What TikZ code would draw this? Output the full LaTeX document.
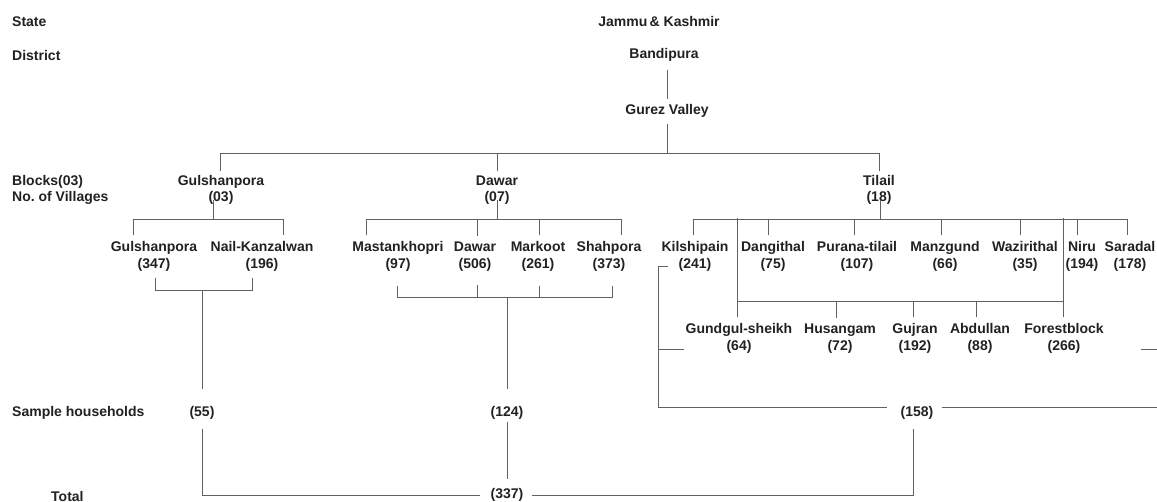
\documentclass[tikz,border=0pt]{standalone}
\usepackage{fontspec}
\setmainfont{Liberation Sans}
\usepackage{tikz}
\definecolor{txt}{gray}{0.13}
\definecolor{lin}{gray}{0.38}

\begin{document}
\begin{tikzpicture}[x=1pt, y=-1pt,
  font=\fontsize{14}{16.5}\selectfont\bfseries,
  lbl/.style={inner sep=0pt, text=txt},
  blk/.style={lbl, align=center, inner ysep=4pt},
  vil/.style={lbl, align=center, inner ysep=6pt, font=\fontsize{14}{17}\selectfont\bfseries},
  ln/.style={draw=lin, line width=1pt}]
\clip (0,0) rectangle (1157,502);
\coordinate (bar0) at (0,154);

\node[lbl,anchor=west] (lstate) at (12,22) {State};
\node[lbl,anchor=west] (ldist) at (12,55) {District};
\node[lbl,anchor=west,align=left] (lblock) at (12,190) {Blocks(03)\\No.\ of Villages};
\node[lbl,anchor=west] (lsample) at (12,413) {Sample households};
\node[lbl,anchor=west] (ltotal) at (51,496) {Total};

\node[lbl] (jk) at (659,22) {Jammu\,\& Kashmir};
\node[lbl] (bandi) at (664,55) {Bandipura};
\node[lbl] (gurez) at (667,111) {Gurez Valley};

\node[blk] (gulb) at (221,190) {Gulshanpora\\(03)};
\node[blk] (dawb) at (497,190) {Dawar\\(07)};
\node[blk] (tilb) at (879,190) {Tilail\\(18)};

\node[vil] (gv1) at (154,256.5) {Gulshanpora\\(347)};
\node[vil] (gv2) at (262,256.5) {Nail-Kanzalwan\\(196)};
\node[vil] (dv1) at (398,256.5) {Mastankhopri\\(97)};
\node[vil] (dv2) at (475,256.5) {Dawar\\(506)};
\node[vil] (dv3) at (538,256.5) {Markoot\\(261)};
\node[vil] (dv4) at (609,256.5) {Shahpora\\(373)};
\node[vil] (tv1) at (695,256.5) {Kilshipain\\(241)};
\node[vil] (tv2) at (773,256.5) {Dangithal\\(75)};
\node[vil] (tv3) at (857,256.5) {Purana-tilail\\(107)};
\node[vil] (tv4) at (945,256.5) {Manzgund\\(66)};
\node[vil] (tv5) at (1025,256.5) {Wazirithal\\(35)};
\node[vil] (tv6) at (1082,256.5) {Niru\\(194)};
\node[vil] (tv7) at (1130,256.5) {Saradal\\(178)};
\node[vil] (tw1) at (739,338.5) {Gundgul-sheikh\\(64)};
\node[vil] (tw2) at (840,338.5) {Husangam\\(72)};
\node[vil] (tw3) at (915,338.5) {Gujran\\(192)};
\node[vil] (tw4) at (980,338.5) {Abdullan\\(88)};
\node[vil] (tw5) at (1064,338.5) {Forestblock\\(266)};

\node[lbl] (s1) at (202,413) {(55)};
\node[lbl] (s2) at (507,413) {(124)};
\node[lbl] (s3) at (917,413) {(158)};
\node[lbl] (tot) at (507,495) {(337)};
\coordinate (gj) at (202,291);
\coordinate (dj) at (507,297);

\draw[ln] (gurez.north |- bandi.south) ++(0,8) -- ([yshift=5pt]gurez.north);
\draw[ln] ([yshift=-6pt]gurez.south) -- (gurez.south |- bar0);
\draw[ln] ([xshift=-1pt]gulb.north) |- (tilb.north |- bar0) -- (tilb.north);
\draw[ln] (dawb.north) -- (dawb.north |- bar0);

\draw[ln] ([xshift=-8pt,yshift=-10pt]gulb.center) -- ++(0,19);
\draw[ln] ([xshift=-21pt]gv1.north) -- ++(0,-16) -| ([xshift=21pt]gv2.north);
\draw[ln] ([xshift=1pt]gv1.south) -- ++(0,13) -| ([xshift=-10pt]gv2.south);
\draw[ln] (gj) -- ([yshift=17pt]s1.north);
\draw[ln] ([yshift=-9pt]s1.south) |- ([xshift=-10pt]tot.west);

\draw[ln] ([yshift=-10pt]dawb.center) -- ++(0,19);
\draw[ln] ([xshift=-32pt]dv1.north) -- ++(0,-16) -| ([xshift=12pt]dv4.north);
\draw[ln] ([xshift=2pt]dv2.north) -- ++(0,-16);
\draw[ln] ([xshift=1pt]dv3.north) -- ++(0,-16);
\draw[ln] ([xshift=-1pt,yshift=-8pt]dv1.south) -- ++(0,12) -| ([xshift=3pt,yshift=-8pt]dv4.south);
\draw[ln] ([xshift=2pt,yshift=-8pt]dv2.south) -- ++(0,12);
\draw[ln] ([xshift=1pt,yshift=-8pt]dv3.south) -- ++(0,12);
\draw[ln] (dj) -- ([yshift=17pt]s2.north);
\draw[ln] ([yshift=-2pt]s2.south) -- ([yshift=9pt]tot.north);
\draw[ln] ([xshift=8pt]tot.east) -| ([xshift=-4pt,yshift=-9pt]s3.south);

\draw[ln] ([xshift=1pt,yshift=-10pt]tilb.center) -- ++(0,19);
\draw[ln] ([xshift=-2pt]tv1.north) -- ++(0,-16) -| ([xshift=-3pt]tv7.north);
\draw[ln] ([xshift=-5pt]tv2.north) -- ++(0,-16);
\draw[ln] ([xshift=-3pt]tv3.north) -- ++(0,-16);
\draw[ln] ([xshift=-4pt]tv4.north) -- ++(0,-16);
\draw[ln] ([xshift=-5pt]tv5.north) -- ++(0,-16);
\draw[ln] ([xshift=-5pt]tv6.north) -- ++(0,-16);
\draw[ln] ([xshift=-2pt]tw1.north) -- ++(0,-99);
\draw[ln] ([xshift=-1pt]tw5.north) -- ++(0,-99);
\draw[ln] ([xshift=-2pt,yshift=16pt]tw1.north) -- ([xshift=-1pt,yshift=16pt]tw5.north);
\draw[ln] ([xshift=-4pt]tw2.north) -- ++(0,-16);
\draw[ln] ([xshift=-2pt]tw3.north) -- ++(0,-16);
\draw[ln] ([xshift=-4pt]tw4.north) -- ++(0,-16);

\draw[ln] ([xshift=-27pt,yshift=-10.5pt]tv1.center) -- ++(-10,0) |- ([xshift=-13pt,yshift=5pt]s3.west);
\draw[ln] ([xshift=-2pt,yshift=-11.5pt]tw1.west) -- ++(-26,0);
\draw[ln] ([xshift=8pt,yshift=5pt]s3.east) -- ++(240,0);
\draw[ln] ([xshift=37pt,yshift=-11.5pt]tw5.east) -- ++(30,0);
\end{tikzpicture}
\end{document}
